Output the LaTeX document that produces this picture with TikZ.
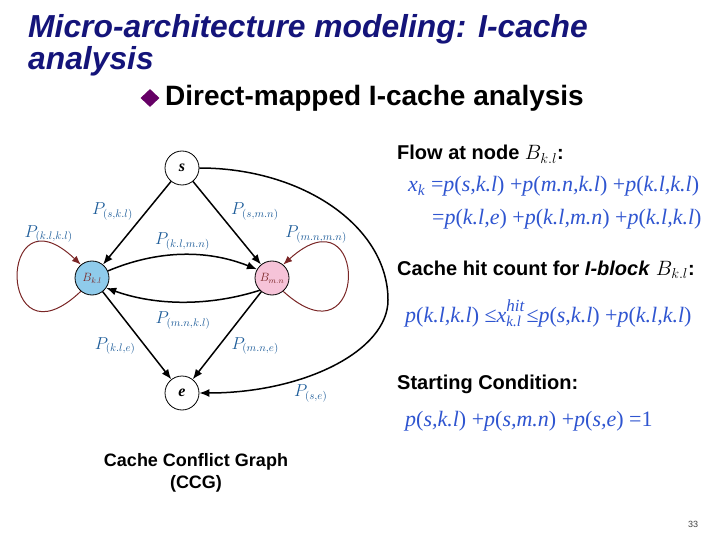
\documentclass[tikz,border=0pt]{standalone}
\usepackage{fontspec}
\setmainfont{Liberation Sans}
\newfontfamily\eqfont{Liberation Serif}
\usetikzlibrary{arrows.meta,positioning,shapes.geometric}
\definecolor{SlideNavy}{HTML}{14147A}
\definecolor{SlidePurple}{HTML}{660066}
\definecolor{EqBlue}{HTML}{2F55D0}
\definecolor{LabelBlue}{HTML}{1D5C99}
\definecolor{LoopRed}{HTML}{7A2626}
\definecolor{BlockBlue}{HTML}{8FCBEB}
\definecolor{BlockPink}{HTML}{F6C3D8}
\newcommand{\pfl}[1]{\textit{p}(\textit{#1})}
\newcommand{\xhit}{\textit{x}\rlap{\raisebox{11pt}{\fontsize{17}{17}\selectfont\textit{hit}}}\raisebox{-4pt}{\fontsize{15}{15}\selectfont\textit{k.l}}}
\tikzset{
  titletext/.style={anchor=base west, align=left, inner sep=0pt, text=SlideNavy, font=\bfseries\itshape\fontsize{31.8}{32}\selectfont},
  vertex/.style={circle, draw=black, thick, fill=white, minimum size=34pt, inner sep=0pt, font=\eqfont\bfseries\itshape\fontsize{16}{16}\selectfont},
  blockvertex/.style={vertex, text=LoopRed, font=\fontsize{12}{12}\selectfont},
  arr/.style={-{Latex[length=10pt,width=8pt]}, line width=1.5pt},
  looparr/.style={-{Latex[length=9pt,width=7pt]}, line width=1pt, draw=LoopRed},
  plabel/.style={text=LabelBlue, font=\fontsize{16}{16}\selectfont, inner sep=1pt},
  heading/.style={anchor=base west, inner sep=0pt, font=\bfseries\fontsize{20}{24}\selectfont},
  eqline/.style={anchor=base west, inner sep=0pt, text=EqBlue, font=\eqfont\fontsize{22}{26}\selectfont}
}
\begin{document}
\begin{tikzpicture}[x=1pt, y=-1pt]
\useasboundingbox (0,0) rectangle (720,540);
\node[titletext] (title) at (28,70) {Micro-architecture modeling: I-cache\\analysis};
\node[diamond, fill=SlidePurple, minimum width=19pt, minimum height=18pt, inner sep=0pt] (bullet) at (150,98) {};
\node[anchor=base west, inner sep=0pt, font=\bfseries\fontsize{28}{32}\selectfont] (subtitle) at (165,106) {Direct-mapped I-cache analysis};
\node[vertex] (s) at (182,168) {s};
\node[blockvertex, fill=BlockBlue] (bkl) at (92,278) {$B_{k.l}$};
\node[blockvertex, fill=BlockPink] (bmn) at (272,278) {$B_{m.n}$};
\node[vertex] (e) at (182,393) {e};
\coordinate (bend) at (388,300);
\draw[arr] (s) -- node[plabel, pos=0.36, left=12pt] {$P_{(s,k.l)}$} (bkl);
\draw[arr] (s) -- node[plabel, pos=0.36, right=12pt] {$P_{(s,m.n)}$} (bmn);
\draw[arr] (bkl) -- node[plabel, pos=0.62, left=8pt] {$P_{(k.l,e)}$} (e);
\draw[arr] (bmn) -- node[plabel, pos=0.62, right=11pt] {$P_{(m.n,e)}$} (e);
\draw[arr] (bkl.24) .. controls +(50,-21) and +(-50,-20) .. node[plabel, pos=0.5, above=3pt] {$P_{(k.l,m.n)}$} (bmn.150);
\draw[arr] (bmn.225) .. controls +(-50,16) and +(50,18) .. node[plabel, pos=0.5, below=8pt] {$P_{(m.n,k.l)}$} (bkl.-35);
\draw[looparr] (bkl.230) .. controls +(-84,80) and +(-84,-80) .. node[plabel, pos=0.85, above=1pt] {$P_{(k.l,k.l)}$} (bkl.130);
\draw[looparr] (bmn.-50) .. controls +(86,78) and +(86,-78) .. node[plabel, pos=0.85, above=1pt] {$P_{(m.n,m.n)}$} (bmn.50);
\draw[arr] (s.east) .. controls +(104,0) and +(0,-73) .. (bend) .. controls +(0,51) and +(104,0) .. node[plabel, pos=0.6, below=8pt] {$P_{(s,e)}$} (e.east);
\node[align=center, font=\bfseries\fontsize{18}{22}\selectfont] (ccg) at (196,473) {Cache Conflict Graph\\(CCG)};
\node[heading] (flowhead) at (397,160) {Flow at node $B_{k.l}$:};
\node[eqline] (flow1) at (408,192) {\textit{x}\textsubscript{\textit{k}} =\pfl{s,k.l} +\pfl{m.n,k.l} +\pfl{k.l,k.l}};
\node[eqline] (flow2) at (432,225) {=\pfl{k.l,e} +\pfl{k.l,m.n} +\pfl{k.l,k.l}};
\node[heading] (hithead) at (397,275) {Cache hit count for \textit{I-block} $B_{k.l}$:};
\node[eqline] (hiteq) at (405,322) {\pfl{k.l,k.l} ≤\xhit\ ≤\pfl{s,k.l} +\pfl{k.l,k.l}};
\node[heading] (starthead) at (397,389) {Starting Condition:};
\node[eqline] (starteq) at (405,426) {\pfl{s,k.l} +\pfl{s,m.n} +\pfl{s,e} =1};
\node[font=\fontsize{9}{9}\selectfont, text=black!75] (pagenum) at (693,524) {33};
\end{tikzpicture}
\end{document}
